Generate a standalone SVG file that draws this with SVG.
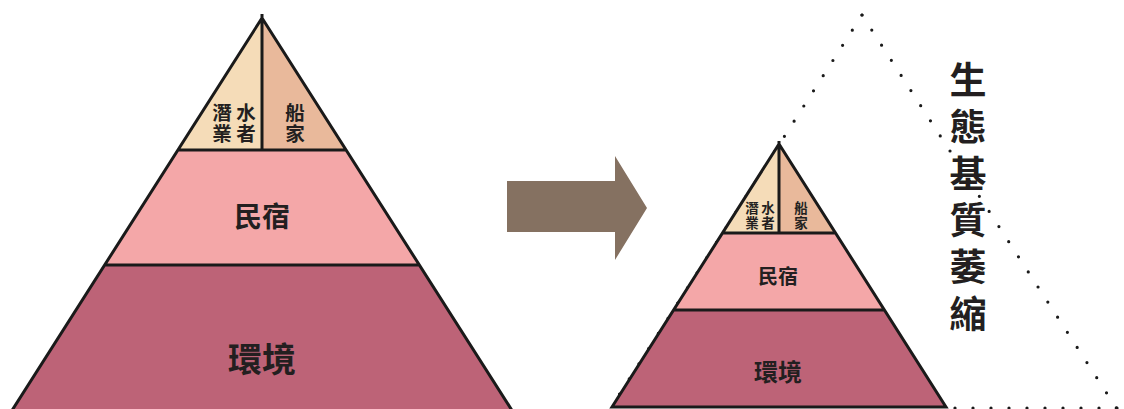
<svg xmlns="http://www.w3.org/2000/svg" width="1124" height="409" viewBox="0 0 1124 409">
<style>
.ol{stroke:#1a1a1a;stroke-width:3;stroke-linejoin:miter;fill:none}
.t{font-family:"Noto Sans CJK TC","Noto Sans CJK SC",sans-serif;font-weight:700;fill:#231f20;text-anchor:middle;dominant-baseline:central}
.dot{fill:none;stroke:#1a1a1a;stroke-width:3.2;stroke-linecap:round;stroke-dasharray:0 18}
</style>
<rect width="1124" height="409" fill="#ffffff"/>
<g id="dotted-triangle">
<path class="dot" d="M862,15 L610,409"/>
<path class="dot" d="M862,15 L1117,409"/>
<path class="dot" d="M955,408 L1124,408"/>
</g>
<g id="left-pyramid">
<polygon points="262,18 178,150 262,150" fill="#f5dcb8"/>
<polygon points="262,18 346,150 262,150" fill="#e9b99b"/>
<polygon points="178,150 346,150 419,265 105,265" fill="#f4a7a8"/>
<polygon points="105,265 419,265 513,412 11,412" fill="#bd6377"/>
<path class="ol" d="M11,412 L262,18 L513,412 M178,150 H346 M105,265 H419 M262,14 V150"/>
<text class="t" x="222" y="111" font-size="19.5">潛</text>
<text class="t" x="246" y="111" font-size="19.5">水</text>
<text class="t" x="222" y="132" font-size="19.5">業</text>
<text class="t" x="246" y="132" font-size="19.5">者</text>
<text class="t" x="295" y="111" font-size="19.5">船</text>
<text class="t" x="295" y="132" font-size="19.5">家</text>
<text class="t" x="262" y="215" font-size="28">民宿</text>
<text class="t" x="262" y="357" font-size="34">環境</text>
</g>
<g id="arrow">
<polygon points="507,181 615,181 615,156 647,208 615,260 615,232 507,232" fill="#857161"/>
</g>
<g id="right-pyramid">
<polygon points="779,144 722,233 779,233" fill="#f5dcb8"/>
<polygon points="779,144 836,233 779,233" fill="#e9b99b"/>
<polygon points="722,233 836,233 885,310 673,310" fill="#f4a7a8"/>
<polygon points="673,310 885,310 946,407 612,407" fill="#bd6377"/>
<path class="ol" d="M612,407 L779,144 L946,407 Z M722,233 H836 M673,310 H885 M779,141 V233"/>
<text class="t" x="752" y="207" font-size="13.5">潛</text>
<text class="t" x="768" y="207" font-size="13.5">水</text>
<text class="t" x="752" y="222" font-size="13.5">業</text>
<text class="t" x="768" y="222" font-size="13.5">者</text>
<text class="t" x="801" y="207" font-size="13.5">船</text>
<text class="t" x="801" y="222" font-size="13.5">家</text>
<text class="t" x="778" y="275" font-size="20">民宿</text>
<text class="t" x="778" y="370" font-size="24">環境</text>
</g>
<g id="label">
<text class="t" x="968" y="78" font-size="37">生</text>
<text class="t" x="968" y="125" font-size="37">態</text>
<text class="t" x="968" y="172" font-size="37">基</text>
<text class="t" x="968" y="218" font-size="37">質</text>
<text class="t" x="968" y="265" font-size="37">萎</text>
<text class="t" x="968" y="312" font-size="37">縮</text>
</g>
</svg>
